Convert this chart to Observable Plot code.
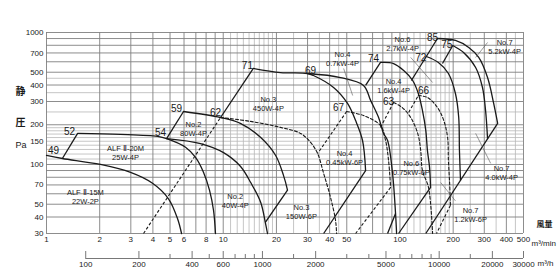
<!DOCTYPE html>
<html><head><meta charset="utf-8">
<script src="https://cdn.jsdelivr.net/npm/d3@7"></script>
<script src="https://cdn.jsdelivr.net/npm/@observablehq/plot@0.6"></script>
<style>body{margin:0;background:#fff}</style>
</head><body><div id="chart"></div>
<script>
// ---- axis ticks / grid values ----
const xTickLabels = [1,2,3,4,5,6,8,10,20,30,40,50,100,200,300,400,500];
const yTickLabels = [30,40,50,70,100,150,200,300,400,500,700,1000];
const xGridMajor = [1,2,3,4,5,6,7,8,9,10,20,30,40,50,60,70,80,90,100,200,300,400,500];
const xGridMinor = [11,12,13,14,15,16,17,18,19,25,35,45,110,120,130,140,150,160,170,180,190,250,350,450];
const yGridMajor = [30,40,50,60,70,80,90,100,200,300,400,500,600,700,800,900,1000];
const yGridMinor = [110,120,130,140,150,160,170,180,190,250,350,450];
const m3hTicks = [100,200,300,400,500,600,700,800,900,1000,1500,2000,3000,4000,5000,6000,7000,8000,9000,10000,15000,20000,30000];
const m3hLabels = [100,200,400,600,1000,2000,5000,10000,20000,30000];

// ---- fan curves [m3/min, Pa] ----
const alf15M   = [[1,117],[1.23,111],[2.02,100],[2.99,87],[3.98,72],[4.9,55],[5.51,39],[5.81,30]];
const alf20M   = [[1.5,172],[2.62,169],[4.25,163],[4.78,157],[6.12,135],[6.97,113],[7.74,87],[8.36,64],[8.81,45],[9.04,30]];
const no2_80W  = [[5.96,252],[9.66,227],[12.5,205],[16.3,160],[19.8,117],[21.9,83],[23.1,64]];
const no2_40W  = [[4.78,157],[7.44,144],[10.04,123],[12.5,97],[14.3,73],[16.3,51.5],[17.3,36.4],[17.8,30]];
const no3_450W = [[14.8,534],[21.1,497],[30,489],[32.4,472],[42.1,383],[50.5,290],[56.1,215],[61.4,152],[63.9,90]];
const no4_07kW = [[30,489],[46.1,456],[62.2,397],[68.2,306],[75.7,227],[80.7,172],[85.1,152],[90.8,85.5],[94.4,42.6],[95.7,30]];
const no4_16kW = [[77.6,593],[92,582],[105,515],[118,433],[127,345],[134,257],[140,181],[143,128],[147,95],[149,67]];
const no6_27kW = [[141,658],[165,593],[188,489],[206,345],[215,227],[217,128],[220,76]];
const no7_40kW = [[199,797],[229,705],[268,543],[293,383],[305,257],[313,157]];
const no7_52kW = [[163,901],[206,870],[245,770],[279,647],[313,456],[339,290],[357,205]];
// 6P (dashed)
const no3_150W6P  = [[9.66,227],[14.3,212],[21.1,191],[27.4,172],[31.2,147],[34.2,121],[37,85.5],[40.5,56],[43.2,37.7],[43.8,30]];
const no4_045kW6P = [[49.9,252],[62.2,235],[77.6,197],[82.9,152],[86.2,107],[88.5,67]];
const no6_075kW6P = [[92,295],[103,270],[115,227],[126,172],[131,128],[134,90],[145,67],[153,30]];
const no7_12kW6P  = [[127,333],[143,322],[163,270],[177,215],[186,160],[188,107],[191,72],[193,49]];

// straight connecting / limit lines [q1,p1,q2,p2]
const solidLinks = [
  [1.23,111,1.50,172],[4.78,157,5.96,252],[23.1,64,17.3,36.4],[9.66,227,14.8,534],
  [63.9,90,37,30],[63.9,397,77.6,593],[94.4,42.6,85.1,30],[149,67,98.2,30],
  [116,433,163,901],[174,582,199,797],[357,205,140,30]
];
const dashedLinks = [
  [3.54,30,9.66,227],[49.9,252,34.2,121],[88.5,67,56.1,30],
  [77.6,191,92,295],[112,248,127,333],[193,49,161,30]
];
const leaders = [
  [48,534,54,333],[115,647,153,418],[313,840,268,647],[268,172,326,102],[170,73,206,53]
];

// labels
const soundLabels = [
  [1.096,128,"49"],[1.35,178,"52"],[4.42,175,"54"],[5.44,266,"59"],[9.04,248,"62"],
  [13.7,562,"71"],[31.2,515,"69"],[44.9,270,"67"],[70.9,636,"74"],[86.2,300,"63"],
  [136,364,"66"],[131,647,"72"],[153,917,"85"],[184,811,"75"]
];
const modelLabels = [
  [2.80,123,"ALF Ⅱ-20M\n25W-4P"],[1.66,57.3,"ALF Ⅱ-15M\n22W-2P"],
  [6.79,187,"No.2\n80W-4P"],[11.7,53.3,"No.2\n40W-4P"],
  [18.0,290,"No.3\n450W-4P"],[27.7,44.1,"No.3\n150W-6P"],
  [48.6,113,"No.4\n0.45kW-6P"],[47.3,636,"No.4\n0.7kW-4P"],
  [92,397,"No.4\n1.6kW-4P"],[103.4,826,"No.6\n2.7kW-4P"],
  [116,94.9,"No.6\n0.75kW-6P"],[391,783,"No.7\n5.2kW-4P"],
  [376,87,"No.7\n4.0kW-4P"],[251,41.8,"No.7\n1.2kW-6P"]
];

const solidCurves = [alf15M, alf20M, no2_80W, no2_40W, no3_450W, no4_07kW, no4_16kW, no6_27kW, no7_40kW, no7_52kW];
const dashedCurves = [no3_150W6P, no4_045kW6P, no6_075kW6P, no7_12kW6P];

const SANS = "'Liberation Sans',Arial,sans-serif";
const CJK = "'Noto Sans CJK JP',sans-serif";
const INK = "#1a1a1a";
const marks = [
  Plot.ruleX(xGridMinor, {stroke:"#b8b8b8", strokeWidth:0.8}),
  Plot.ruleY(yGridMinor, {stroke:"#b8b8b8", strokeWidth:0.8}),
  Plot.ruleX(xGridMajor, {stroke:"#808080", strokeWidth:0.9}),
  Plot.ruleY(yGridMajor, {stroke:"#808080", strokeWidth:0.9}),
  // tick labels
  Plot.text(xTickLabels, {x:d=>d, text:d=>String(d), frameAnchor:"bottom", dy:8, fontSize:8, fill:INK, fontFamily:SANS}),
  Plot.text(yTickLabels, {y:d=>d, text:d=>String(d), frameAnchor:"left", dx:-3, textAnchor:"end", fontSize:8, fill:INK, fontFamily:SANS}),
  ...solidCurves.map(c => Plot.line(c, {x:d=>d[0], y:d=>d[1], stroke:INK, strokeWidth:1.3, curve:"catmull-rom"})),
  ...dashedCurves.map(c => Plot.line(c, {x:d=>d[0], y:d=>d[1], stroke:INK, strokeWidth:1.1, strokeDasharray:"3,2", curve:"catmull-rom"})),
  Plot.link(solidLinks, {x1:d=>d[0], y1:d=>d[1], x2:d=>d[2], y2:d=>d[3], stroke:INK, strokeWidth:1.3}),
  Plot.link(dashedLinks, {x1:d=>d[0], y1:d=>d[1], x2:d=>d[2], y2:d=>d[3], stroke:INK, strokeWidth:1.1, strokeDasharray:"3,2"}),
  Plot.link(leaders, {x1:d=>d[0], y1:d=>d[1], x2:d=>d[2], y2:d=>d[3], stroke:"#555", strokeWidth:0.6}),
  Plot.text(soundLabels, {x:d=>d[0], y:d=>d[1], text:d=>d[2], fontSize:10, fill:INK, fontFamily:SANS}),
  Plot.text(modelLabels, {x:d=>d[0], y:d=>d[1], text:d=>d[2], fontSize:7.5, lineHeight:1.25, fill:INK, fontFamily:SANS}),
  // secondary m3/h axis
  Plot.ruleY([30], {x1:100/60, x2:30000/60, dy:25, stroke:"#555", strokeWidth:0.8}),
  Plot.ruleX(m3hTicks.filter(t=>!m3hLabels.includes(t)), {x:d=>d/60, insetTop:197, dy:25, stroke:"#555", strokeWidth:0.8}),
  Plot.ruleX(m3hLabels, {x:d=>d/60, insetTop:194, dy:25, stroke:"#555", strokeWidth:0.8}),
  Plot.text(m3hLabels, {x:d=>d/60, text:d=>String(d), frameAnchor:"bottom", dy:33, fontSize:8, fill:INK, fontFamily:SANS}),
  Plot.text(["m³/min"], {frameAnchor:"bottom-right", dx:8, dy:12, textAnchor:"start", fontSize:8, fill:INK, fontFamily:SANS}),
  Plot.text(["m³/h"], {frameAnchor:"bottom-right", dx:14, dy:32, textAnchor:"start", fontSize:8, fill:INK, fontFamily:SANS}),
  Plot.text(["風量"], {frameAnchor:"bottom-right", dx:13, dy:-7, textAnchor:"start", fontSize:8, fontWeight:"bold", fill:INK, fontFamily:CJK}),
  Plot.text(["静"], {frameAnchor:"left", dx:-31, dy:-41.5, fontSize:10, fontWeight:"bold", fill:INK, fontFamily:CJK}),
  Plot.text(["圧"], {frameAnchor:"left", dx:-31, dy:-10.5, fontSize:10, fontWeight:"bold", fill:INK, fontFamily:CJK}),
  Plot.text(["Pa"], {frameAnchor:"left", dx:-31, dy:12.5, fontSize:9, fill:INK, fontFamily:SANS})
];

const chart = Plot.plot({
  width:560, height:280,
  marginLeft:46, marginRight:37, marginTop:32, marginBottom:47,
  x:{type:"log", domain:[1,500], axis:null},
  y:{type:"log", domain:[30,1000], axis:null},
  style:{fontFamily:SANS, fontSize:"8px", background:"#fff", color:INK},
  marks
});
document.getElementById("chart").appendChild(chart);
</script>
</body></html>
